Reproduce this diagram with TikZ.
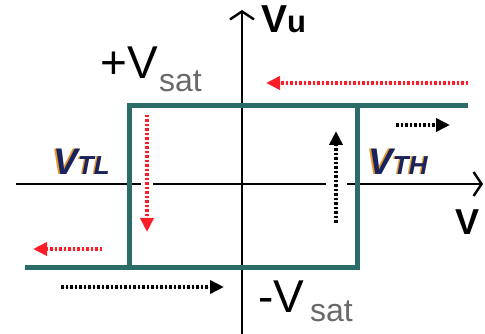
\documentclass[tikz,border=0pt]{standalone}
\usepackage{fontspec}
\setmainfont{Liberation Sans}
\usetikzlibrary{arrows.meta}
\definecolor{hystc}{RGB}{44,108,104}
\definecolor{redarr}{RGB}{250,30,40}
\definecolor{navy}{RGB}{25,35,95}
\definecolor{orng}{RGB}{235,150,40}
\definecolor{subg}{RGB}{105,105,105}
\tikzset{
  axis/.style={line width=2.4pt, -{Straight Barb[length=8pt,width=24pt,line width=2.4pt]}},
  loopline/.style={draw=hystc, line width=5pt, line join=miter},
  dotarr/.style={line width=3.5pt, dash pattern=on 2.5pt off 2pt, -{Triangle[length=14pt,width=13pt]}},
  redflow/.style={dotarr, draw=redarr, fill=redarr},
  blkflow/.style={dotarr, draw=black, fill=black},
  lab/.style={inner sep=0pt, anchor=base west},
}
\begin{document}
\begin{tikzpicture}[x=1pt,y=-1pt]
\useasboundingbox (0,0) rectangle (485,334);
% axes
\coordinate (yb) at (242,334);
\coordinate (yt) at (242,10);
\coordinate (xl) at (16,184);
\coordinate (xr) at (483,184);
\draw[axis] (xl) -- (xr);
\draw[axis] (yb) -- (yt);
% hysteresis loop
\coordinate (tr) at (468,106);
\coordinate (tl) at (129,106);
\coordinate (bl) at (129,267);
\coordinate (blx) at (25,267);
\coordinate (br) at (357,267);
\coordinate (trc) at (357,106);
\draw[loopline] (tr) -- (tl) -- (bl) -- (blx);
\draw[loopline] (bl) -- (br) -- (trc);
% flow arrows
\coordinate (r1s) at (468,83);  \coordinate (r1e) at (266,83);
\coordinate (b1s) at (396,125); \coordinate (b1e) at (450,125);
\coordinate (b2s) at (336,223); \coordinate (b2e) at (336,131);
\coordinate (r2s) at (147,115); \coordinate (r2e) at (147,232);
\coordinate (r3s) at (102,249); \coordinate (r3e) at (33,249);
\coordinate (b3s) at (61,287);  \coordinate (b3e) at (224,287);
\fill[white] (326,179) rectangle (347,189);
\fill[white] (141,179) rectangle (153,189);
\draw[redflow] (r1s) -- (r1e);
\draw[blkflow] (b1s) -- (b1e);
\draw[blkflow] (b2s) -- (b2e);
\draw[redflow] (r2s) -- (r2e);
\draw[redflow] (r3s) -- (r3e);
\draw[blkflow] (b3s) -- (b3e);
% labels
\node[lab] (vu) at (261,33) {\fontsize{39}{39}\selectfont\bfseries V\fontsize{31}{31}\selectfont u};
\node[lab] (vps) at (100,79) {\fontsize{46}{46}\selectfont +V};
\node[lab, text=subg] (vpss) at (159,92) {\fontsize{32}{32}\selectfont sat};
\node[lab] (vms) at (258,312) {\fontsize{46}{46}\selectfont -V};
\node[lab, text=subg] (vmss) at (310,321) {\fontsize{32}{32}\selectfont sat};
\node[lab, text=orng] (vtlsh) at (51.5,174.5) {\bfseries\itshape\fontsize{37}{37}\selectfont V\fontsize{26}{26}\selectfont TL};
\node[lab, text=navy] (vtl) at (53,175) {\bfseries\itshape\fontsize{37}{37}\selectfont V\fontsize{26}{26}\selectfont TL};
\node[lab, text=orng] (vthsh) at (366.5,174.5) {\bfseries\itshape\fontsize{37}{37}\selectfont V\fontsize{26}{26}\selectfont TH};
\node[lab, text=navy] (vth) at (368,175) {\bfseries\itshape\fontsize{37}{37}\selectfont V\fontsize{26}{26}\selectfont TH};
\node[lab] (vi) at (455,234) {\fontsize{36}{36}\selectfont\bfseries V};
\end{tikzpicture}
\end{document}
